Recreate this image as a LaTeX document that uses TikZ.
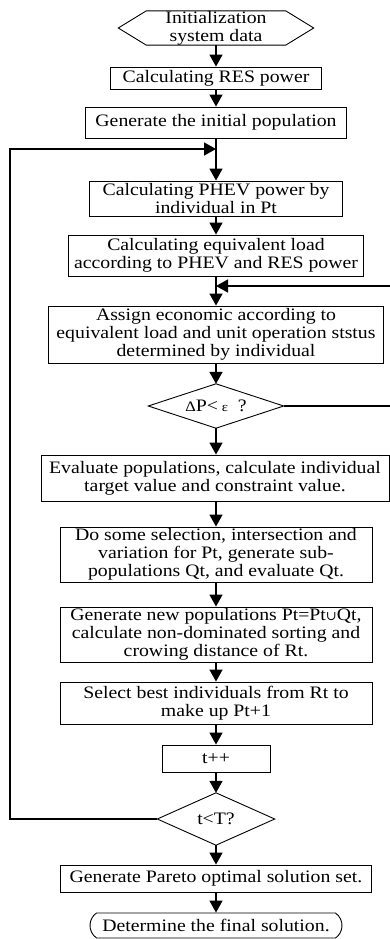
\documentclass[tikz,border=0pt]{standalone}
\usepackage{fontspec}
\setmainfont{Liberation Serif}[FakeStretch=1.13]
\newfontfamily\symfont{DejaVu Serif}
\usetikzlibrary{arrows.meta,shapes.misc}
\newcommand\fs{\fontsize{17.5}{18}\selectfont}
\tikzset{
  plain/.style={inner sep=0pt, align=center, font=\fs},
  box/.style={plain, draw, line width=0.9pt},
  boxline/.style={line width=0.9pt, line join=miter},
  flow/.style={line width=1.6pt, -{Triangle[length=12pt,width=13pt]}},
}
\begin{document}
\begin{tikzpicture}[x=1pt,y=-1pt]
\useasboundingbox (0,0) rectangle (390,939);
% nodes
\node[plain, minimum width=195pt, minimum height=32pt] (init) at (216,28) {Initialization\\system data};
\draw[boxline] (init.west) -- ([xshift=28pt]init.north west) -- ([xshift=-28pt]init.north east)
  -- (init.east) -- ([xshift=-28pt]init.south east) -- ([xshift=28pt]init.south west) -- cycle;
\node[box, minimum width=211pt, minimum height=22pt] (res) at (216,78) {Calculating RES power};
\node[box, minimum width=261pt, minimum height=31pt] (gen) at (216,122.5) {Generate the initial population};
\node[box, minimum width=253pt, minimum height=35pt] (phev) at (216,198.5) {Calculating PHEV power by\\individual in Pt};
\node[box, minimum width=295pt, minimum height=41pt] (eq) at (216,255.5) {Calculating equivalent load\\according to PHEV and RES power};
\node[box, minimum width=335pt, minimum height=57pt] (assign) at (216,334.5) {Assign economic according to\\equivalent load and unit operation ststus\\determined by individual};
\node[plain, minimum width=135pt, minimum height=44pt] (d1) at (216,406) {{\fontsize{14.5}{14.5}\selectfont Δ}P<{\fontsize{13}{13}\selectfont\ ε}\ \ ?};
\draw[boxline] (d1.west) -- (d1.north) -- (d1.east) -- (d1.south) -- cycle;
\node[box, minimum width=348pt, minimum height=46pt] (eval) at (215,478) {Evaluate populations, calculate individual\\target value and constraint value.};
\node[box, minimum width=312pt, minimum height=55pt] (sel) at (216,554.5) {Do some selection, intersection and\\variation for Pt, generate sub-\\populations Qt, and evaluate Qt.};
\node[box, minimum width=312pt, minimum height=55pt] (newpop) at (216,634.5) {Generate new populations Pt=Pt{\fontsize{13}{13}\symfont ∪}Qt,\\calculate non-dominated sorting and\\crowing distance of Rt.};
\node[box, minimum width=312pt, minimum height=42pt] (best) at (216,703) {Select best individuals from Rt to\\make up Pt+1};
\node[box, minimum width=108pt, minimum height=27pt] (tpp) at (216,758.5) {t++};
\node[plain, minimum width=117pt, minimum height=52pt] (d2) at (216,819) {t<T?};
\draw[boxline] (d2.west) -- (d2.north) -- (d2.east) -- (d2.south) -- cycle;
\node[box, minimum width=311pt, minimum height=27pt] (pareto) at (216,878.5) {Generate Pareto optimal solution set.};
\node[box, rounded rectangle, rounded rectangle arc length=110, minimum width=252pt, minimum height=25pt] (final) at (216,925.5) {Determine the final solution.};
% junction coordinates
\coordinate (jL) at (216,149);
\coordinate (lx) at (10,149);
\coordinate (jR) at (216,286);
\coordinate (rx) at (391,286);
% main flow
\draw[flow] (init.south) -- (init.south |- res.north);
\draw[flow] (res.south) -- (res.south |- gen.north);
\draw[flow] (gen.south) -- (gen.south |- phev.north);
\draw[flow] (phev.south) -- (phev.south |- eq.north);
\draw[flow] (eq.south) -- (eq.south |- assign.north);
\draw[flow] (assign.south) -- (assign.south |- d1.north);
\draw[flow] (d1.south) -- (d1.south |- eval.north);
\draw[flow] (eval.south -| d1.south) -- (d1.south |- sel.north);
\draw[flow] (sel.south) -- (sel.south |- newpop.north);
\draw[flow] (newpop.south) -- (newpop.south |- best.north);
\draw[flow] (best.south) -- (best.south |- tpp.north);
\draw[flow] (tpp.south) -- (tpp.south |- d2.north);
\draw[flow] (d2.south) -- (d2.south |- pareto.north);
\draw[flow] (pareto.south) -- (pareto.south |- final.north);
% loops
\draw[flow] (d2.west) -| (lx) -- (jL);
\draw[flow] (d1.east) -| (rx) -- (jR);
\end{tikzpicture}
\end{document}
